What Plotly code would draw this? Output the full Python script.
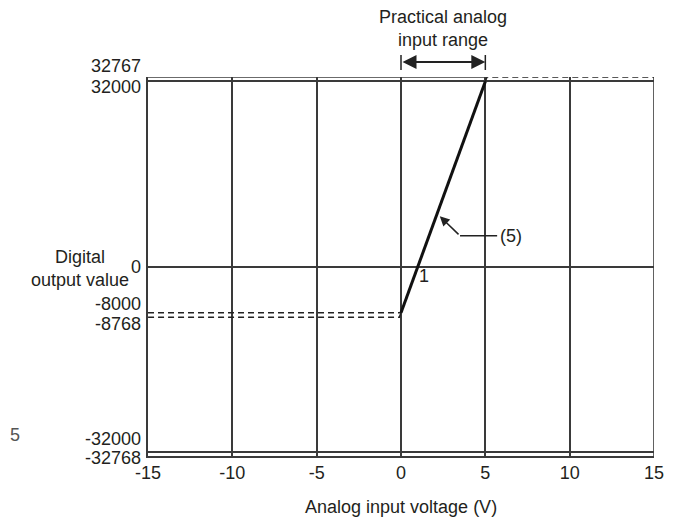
import plotly.graph_objects as go

# ---- data ----
volt_ticks = [-15, -10, -5, 0, 5, 10, 15]
grid_levels = [32000, 0, -32000]
digital_labels = [32767, 32000, 0, -8000, -8768, -32000, -32768]
label_shift = [11, -6, 0, 9, -7, 13, -2]         # small vertical offsets so stacked labels don't collide

char_v = [0, 5]                 # practical range characteristic
char_d = [-8000, 32000]
upper_v = [5, 5.1, 15]          # over-range (dashed)
upper_d = [32000, 32767, 32767]
lower_v = [0, -0.1, -15]        # under-range (dashed)
lower_d = [-8000, -8768, -8768]
guide_v = [-15, 0]              # offset guide (dashed)
guide_d = [-8000, -8000]

X_MIN, X_MAX = -15, 15
Y_MIN, Y_MAX = -32768, 32767

FONT = "Liberation Sans, Arial, sans-serif"
TXT = "#231f20"
GRID = "#3a3a3a"

fig = go.Figure()

dash_style = dict(color="#222222", width=1.5, dash="6px,4px")
fig.add_trace(go.Scatter(x=guide_v, y=guide_d, mode="lines", line=dash_style, hoverinfo="skip"))
fig.add_trace(go.Scatter(x=lower_v, y=lower_d, mode="lines", line=dash_style, hoverinfo="skip"))
fig.add_trace(go.Scatter(x=upper_v, y=upper_d, mode="lines", line=dash_style, hoverinfo="skip"))
fig.add_trace(go.Scatter(x=char_v, y=char_d, mode="lines",
                         line=dict(color="#111111", width=3), hoverinfo="skip"))

# frame: right border and solid part of top border
fig.add_shape(type="line", x0=X_MAX, x1=X_MAX, y0=Y_MIN, y1=Y_MAX,
              line=dict(color=GRID, width=1.6), layer="below")
fig.add_shape(type="line", x0=X_MIN, x1=char_v[1], y0=Y_MAX, y1=Y_MAX,
              line=dict(color=GRID, width=1.6), layer="below")

# y tick labels as annotations
for v, s in zip(digital_labels, label_shift):
    fig.add_annotation(x=0, xref="paper", y=v, yref="y", text=str(v), showarrow=False,
                       xanchor="right", yanchor="middle", xshift=-5, yshift=s,
                       font=dict(family=FONT, size=18, color=TXT))

# axis titles
fig.add_annotation(x=0.5, xref="paper", y=-0.1346, yref="paper",
                   text="Analog input voltage (V)", showarrow=False,
                   xanchor="center", yanchor="middle",
                   font=dict(family=FONT, size=18, color=TXT))
fig.add_annotation(x=-0.1344, xref="paper", y=0.4947, yref="paper",
                   text="Digital<br>output value", showarrow=False,
                   xanchor="center", yanchor="middle", align="center",
                   font=dict(family=FONT, size=18, color=TXT))

# practical analog input range
fig.add_annotation(x=2.5, xref="x", y=1.129, yref="paper",
                   text="Practical analog<br>input range", showarrow=False,
                   xanchor="center", yanchor="middle", align="center",
                   font=dict(family=FONT, size=18, color=TXT))
fig.add_annotation(x=char_v[1], xref="x", y=1.0396, yref="paper",
                   ax=char_v[0], axref="x", ay=0, ayref="pixel",
                   text="", showarrow=True, arrowhead=2, startarrowhead=2,
                   arrowside="end+start", arrowsize=1.4, startarrowsize=1.4,
                   arrowwidth=2, arrowcolor="#222222")
for v in char_v:
    fig.add_shape(type="line", x0=v, x1=v, y0=1.0185, y1=1.058, xref="x", yref="paper",
                  line=dict(color="#222222", width=1.5))

# (5) leader
fig.add_shape(type="line", x0=3.5, x1=5.7, y0=5300, y1=5300,
              line=dict(color="#222222", width=1.5))
fig.add_annotation(x=2.3, y=8700, ax=3.5, axref="x", ay=5300, ayref="y",
                   text="", showarrow=True, arrowhead=2, arrowsize=1.3,
                   arrowwidth=1.5, arrowcolor="#222222")
fig.add_annotation(x=5.75, y=5300, text="(5)", showarrow=False,
                   xanchor="left", yanchor="middle",
                   font=dict(family=FONT, size=18, color=TXT))
fig.add_annotation(x=1.36, y=-1600, text="1", showarrow=False,
                   xanchor="center", yanchor="middle",
                   font=dict(family=FONT, size=18, color=TXT))

# stray label near the left edge
fig.add_annotation(x=-0.262, xref="paper", y=0.0554, yref="paper", text="5",
                   showarrow=False, xanchor="center", yanchor="middle",
                   font=dict(family=FONT, size=18, color="#555555"))

# the page body adds an 8px margin, so the figure is sized/offset to compensate
fig.update_layout(
    width=667, height=512,
    margin=dict(l=140, r=21, t=69, b=64),
    paper_bgcolor="white", plot_bgcolor="white",
    showlegend=False,
    font=dict(family=FONT, size=18, color=TXT),
)
fig.update_xaxes(range=[X_MIN, X_MAX], tickvals=volt_ticks, ticktext=[str(t) for t in volt_ticks],
                 showgrid=True, gridcolor=GRID, gridwidth=1.6, zeroline=False,
                 showline=True, linecolor=GRID, linewidth=1.6, ticks="",
                 tickfont=dict(family=FONT, size=18, color=TXT))
fig.update_yaxes(range=[Y_MIN, Y_MAX], tickvals=grid_levels, showticklabels=False,
                 showgrid=True, gridcolor=GRID, gridwidth=1.6, zeroline=False,
                 showline=True, linecolor=GRID, linewidth=1.6, ticks="")

fig.write_html("out.html")
